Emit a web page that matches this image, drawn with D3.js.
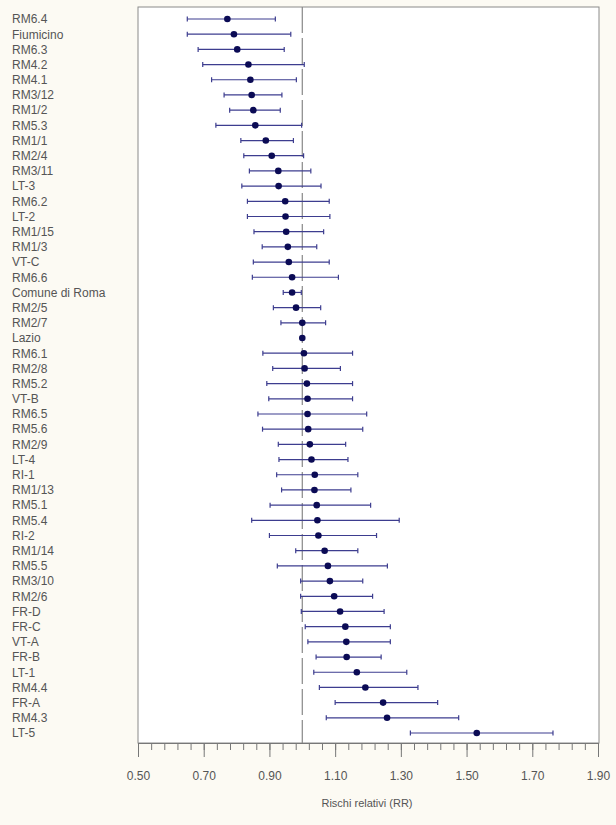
<!DOCTYPE html>
<html>
<head>
<meta charset="utf-8">
<script src="https://cdn.jsdelivr.net/npm/d3@7"></script>
<style>
  body { margin: 0; background: #fcfaf3; }
  svg { display: block; font-family: "Liberation Sans", Arial, sans-serif; }
</style>
</head>
<body>
<div id="chart"></div>
<script>
// Areas, ordered top to bottom
const areas = ['RM6.4', 'Fiumicino', 'RM6.3', 'RM4.2', 'RM4.1', 'RM3/12', 'RM1/2', 'RM5.3', 'RM1/1', 'RM2/4',
    'RM3/11', 'LT-3', 'RM6.2', 'LT-2', 'RM1/15', 'RM1/3', 'VT-C', 'RM6.6', 'Comune di Roma', 'RM2/5',
    'RM2/7', 'Lazio', 'RM6.1', 'RM2/8', 'RM5.2', 'VT-B', 'RM6.5', 'RM5.6', 'RM2/9', 'LT-4',
    'RI-1', 'RM1/13', 'RM5.1', 'RM5.4', 'RI-2', 'RM1/14', 'RM5.5', 'RM3/10', 'RM2/6', 'FR-D',
    'FR-C', 'VT-A', 'FR-B', 'LT-1', 'RM4.4', 'FR-A', 'RM4.3', 'LT-5'];

// Relative risk (point estimate)
const rr = [0.772, 0.792, 0.802, 0.836, 0.842, 0.846, 0.851, 0.857, 0.889, 0.907,
    0.927, 0.928, 0.948, 0.949, 0.951, 0.956, 0.959, 0.969, 0.969, 0.981,
    1.000, 1.000, 1.005, 1.007, 1.014, 1.016, 1.016, 1.018, 1.023, 1.028,
    1.038, 1.037, 1.044, 1.046, 1.049, 1.068, 1.078, 1.084, 1.097, 1.115,
    1.131, 1.134, 1.135, 1.166, 1.192, 1.246, 1.258, 1.531];

// 95% CI lower / upper (null = no interval)
const ciLow = [0.650, 0.650, 0.683, 0.697, 0.724, 0.762, 0.779, 0.737, 0.813, 0.822,
    0.839, 0.816, 0.833, 0.833, 0.853, 0.878, 0.851, 0.848, 0.942, 0.912,
    0.935, null, 0.880, 0.910, 0.892, 0.898, 0.865, 0.879, 0.927, 0.929,
    0.922, 0.937, 0.902, 0.846, 0.900, 0.980, 0.924, 0.995, 0.995, 0.997,
    1.009, 1.017, 1.042, 1.035, 1.052, 1.100, 1.073, 1.329];
const ciHigh = [0.918, 0.965, 0.945, 1.006, 0.982, 0.938, 0.933, 0.998, 0.973, 1.004,
    1.026, 1.057, 1.082, 1.084, 1.065, 1.044, 1.082, 1.110, 0.997, 1.056,
    1.071, null, 1.153, 1.116, 1.153, 1.153, 1.196, 1.184, 1.132, 1.139,
    1.169, 1.148, 1.208, 1.295, 1.226, 1.169, 1.259, 1.184, 1.214, 1.249,
    1.268, 1.268, 1.240, 1.318, 1.352, 1.412, 1.476, 1.763];

const majorTicks = [0.5, 0.7, 0.9, 1.1, 1.3, 1.5, 1.7, 1.9];
const refValue = 1.0;
const axisTitle = 'Rischi relativi (RR)';

const data = areas.map((a, i) => ({area: a, rr: rr[i], lo: ciLow[i], hi: ciHigh[i]}));

const width = 616, height = 825;
const plot = {left: 138, right: 599, top: 7, bottom: 743};

const svg = d3.select('#chart').append('svg')
    .attr('width', width)
    .attr('height', height);

// Plot area
svg.append('rect')
    .attr('x', plot.left).attr('y', plot.top)
    .attr('width', plot.right - plot.left).attr('height', plot.bottom - plot.top)
    .attr('fill', '#fff')
    .attr('stroke', '#8a8a8a')
    .attr('stroke-width', 1);

const x = d3.scaleLinear()
    .domain([0.5, 1.9])
    .range([plot.left, 598]);

const y = d3.scalePoint()
    .domain(areas)
    .range([19, 733]);

// Minor ticks every 0.04
const minorTicks = d3.range(0, 36).map(i => 0.5 + i * 0.04);

svg.append('g')
    .attr('transform', `translate(0,${plot.bottom})`)
    .call(d3.axisBottom(x).tickValues(minorTicks).tickSize(7).tickFormat('').tickSizeOuter(0))
    .call(g => g.select('.domain').remove())
    .call(g => g.selectAll('line').attr('stroke', '#777'));

svg.append('g')
    .attr('transform', `translate(0,${plot.bottom})`)
    .call(d3.axisBottom(x).tickValues(majorTicks).tickSize(14).tickPadding(14)
        .tickFormat(d3.format('.2f')).tickSizeOuter(0))
    .call(g => g.select('.domain').attr('stroke', '#777'))
    .call(g => g.selectAll('line').attr('stroke', '#777'))
    .call(g => g.selectAll('text').attr('font-size', '12px').attr('fill', '#555')
        .attr('font-family', '"Liberation Sans", Arial, sans-serif'));

// Axis title
svg.append('text')
    .attr('x', 367)
    .attr('y', 807)
    .attr('text-anchor', 'middle')
    .attr('font-size', '11px')
    .attr('fill', '#555')
    .text(axisTitle);

// Reference line at RR = 1
svg.append('line')
    .attr('x1', x(refValue)).attr('x2', x(refValue))
    .attr('y1', plot.top).attr('y2', plot.bottom)
    .attr('stroke', '#888')
    .attr('stroke-width', 1.2)
    .attr('stroke-dasharray', '26,5');

// Row labels
svg.selectAll('.row-label')
    .data(data)
    .enter()
    .append('text')
    .attr('class', 'row-label')
    .attr('x', 12)
    .attr('y', d => y(d.area))
    .attr('dy', '0.36em')
    .attr('font-size', '12px')
    .attr('fill', '#555')
    .text(d => d.area);

const ci = data.filter(d => d.lo != null);

// CI lines
svg.selectAll('.ci-line')
    .data(ci)
    .enter()
    .append('line')
    .attr('class', 'ci-line')
    .attr('x1', d => x(d.lo)).attr('x2', d => x(d.hi))
    .attr('y1', d => y(d.area)).attr('y2', d => y(d.area))
    .attr('stroke', '#3d3d8f')
    .attr('stroke-width', 1.2);

// Caps
['lo', 'hi'].forEach(k => {
    svg.selectAll('.cap-' + k)
        .data(ci)
        .enter()
        .append('line')
        .attr('class', 'cap-' + k)
        .attr('x1', d => x(d[k])).attr('x2', d => x(d[k]))
        .attr('y1', d => y(d.area) - 2.5).attr('y2', d => y(d.area) + 2.5)
        .attr('stroke', '#3d3d8f')
        .attr('stroke-width', 1.2);
});

// Points
svg.selectAll('.dot')
    .data(data)
    .enter()
    .append('circle')
    .attr('class', 'dot')
    .attr('cx', d => x(d.rr))
    .attr('cy', d => y(d.area))
    .attr('r', 3.3)
    .attr('fill', '#0b0b55');
</script>
</body>
</html>
